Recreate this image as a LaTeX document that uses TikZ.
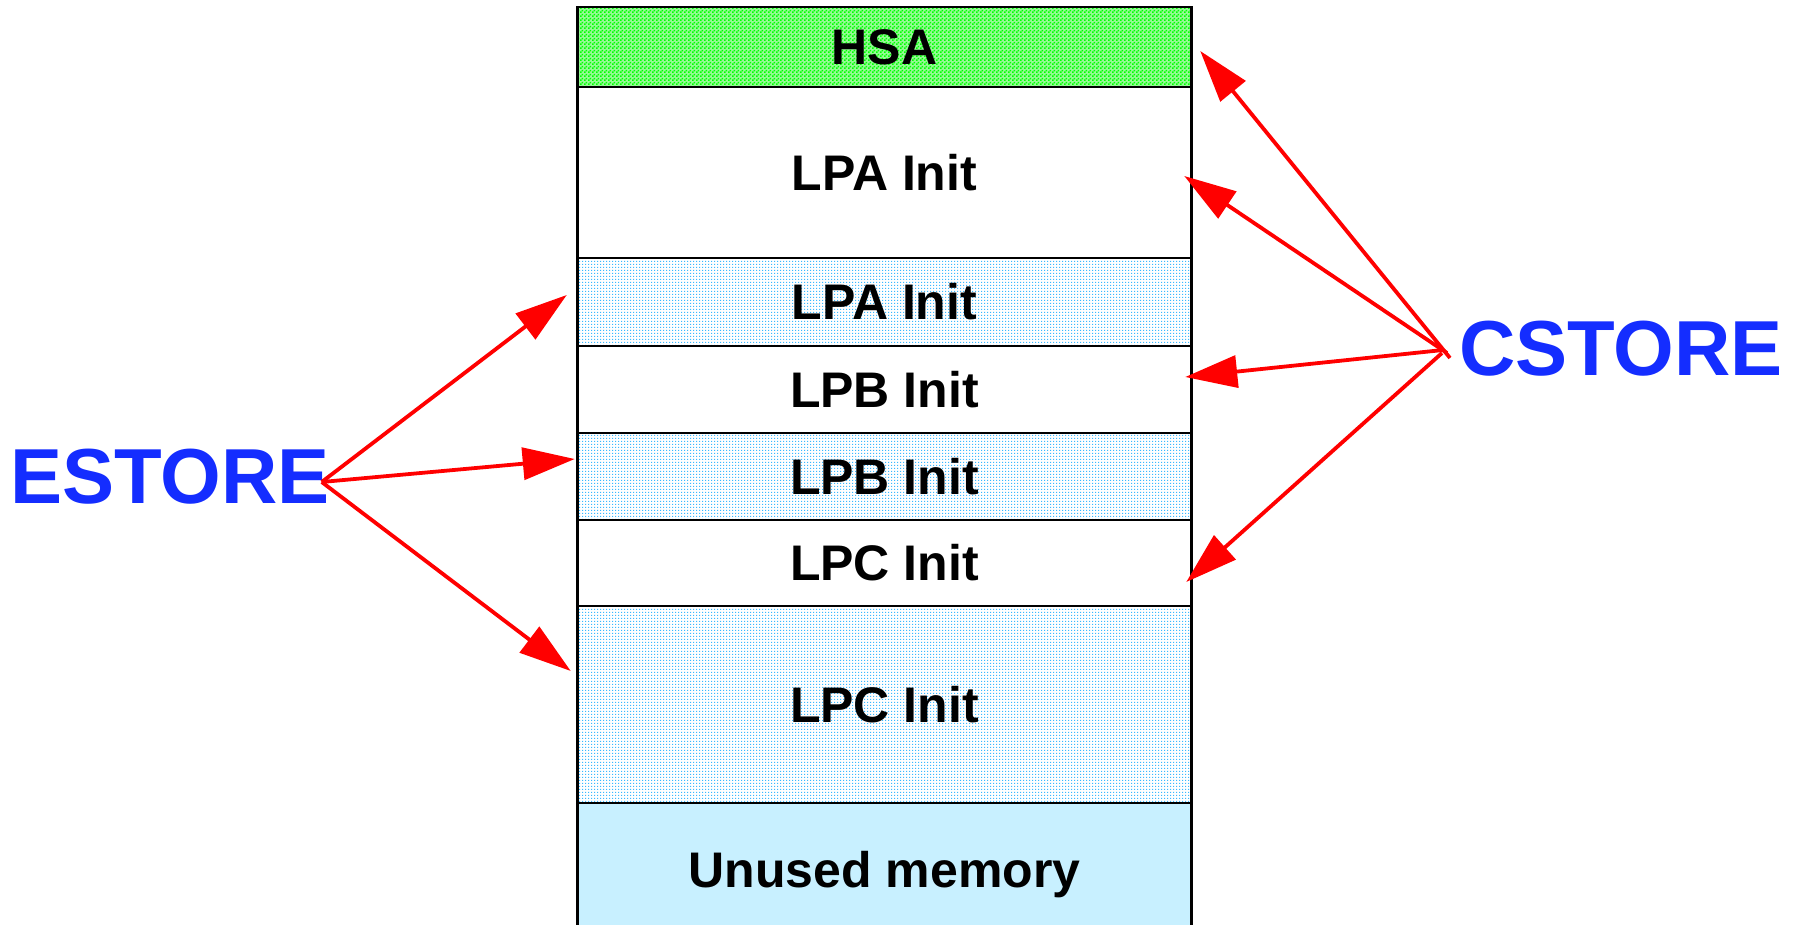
\documentclass[tikz,border=0pt]{standalone}
\usepackage{fontspec}
\setmainfont{Liberation Sans}
\usetikzlibrary{arrows.meta,patterns.meta}

\definecolor{storeblue}{RGB}{20,45,255}
\definecolor{arrowred}{RGB}{255,0,0}
\definecolor{hsagreen}{RGB}{0,255,0}
\definecolor{hsabase}{RGB}{150,250,150}
\definecolor{dotblue}{RGB}{60,185,255}
\definecolor{unusedcyan}{RGB}{200,240,255}

% green checkerboard for the HSA area
\tikzdeclarepattern{
  name=hsachecker,
  type=uncolored,
  bounding box={(0pt,0pt) and (4pt,4pt)},
  tile size={(4pt,4pt)},
  code={\fill (0pt,0pt) rectangle (2pt,2pt);
        \fill (2pt,2pt) rectangle (4pt,4pt);}
}
% fine dot grid for the shaded image areas
\tikzdeclarepattern{
  name=finedots,
  type=uncolored,
  bounding box={(0pt,0pt) and (3pt,3pt)},
  tile size={(3pt,3pt)},
  code={\fill (0pt,0pt) rectangle (1.5pt,1.5pt);}
}

\tikzset{
  memrow/.style={draw=black, line width=2.5pt, minimum width=614pt,
    inner sep=0pt, font=\fontsize{50}{60}\selectfont\bfseries},
  dotted area/.style={memrow, pattern={finedots}, pattern color=dotblue},
  storelabel/.style={inner sep=0pt, text=storeblue,
    font=\fontsize{78}{90}\selectfont\bfseries},
  storearrow/.style={draw=arrowred, line width=3.8pt,
    -{Triangle[length=52pt,width=32pt]}}
}

\begin{document}
\begin{tikzpicture}[x=1pt,y=-1pt]
  \useasboundingbox (0,0) rectangle (1804,925);
  \fill[white] (0,0) rectangle (1804,925);

  % memory layout, top to bottom
  \begin{scope}
    \clip (0,0) rectangle (1804,925);
    \fill[hsabase] (577.5,7) rectangle (1191.5,87);
    \node[memrow, minimum height=80pt, pattern={hsachecker}, pattern color=hsagreen]
      (hsa) at (884.5,47) {HSA};
    \node[memrow, minimum height=171pt] (lpa1) at (884.5,172.5) {LPA Init};
    \node[dotted area, minimum height=88pt] (lpa2) at (884.5,302) {LPA Init};
    \node[memrow, minimum height=87pt] (lpb1) at (884.5,389.5) {LPB Init};
    \node[dotted area, minimum height=87pt] (lpb2) at (884.5,476.5) {LPB Init};
    \node[memrow, minimum height=86pt] (lpc1) at (884.5,563) {LPC Init};
    \node[dotted area, minimum height=197pt] (lpc2) at (884.5,704.5) {LPC Init};
    \node[memrow, minimum height=132pt, fill=unusedcyan, text depth=0pt]
      (unused) at (884.5,869) {Unused memory};
  \end{scope}

  % store commands
  \node[storelabel, anchor=west] (es) at (10,477) {ESTORE};
  \node[storelabel, anchor=west] (cs) at (1459,348.5) {CSTORE};

  % ESTORE targets
  \draw[storearrow] ([shift={(-8,5)}]es.east) -- ([shift={(-9.5,-7)}]lpa2.west);
  \draw[storearrow] ([shift={(-8,5)}]es.east) -- ([shift={(-1.5,-17.5)}]lpb2.west);
  \draw[storearrow] ([shift={(-8,5)}]es.east) -- ([shift={(-5.5,-33.5)}]lpc2.west);

  % CSTORE targets
  \draw[storearrow] ([shift={(-9,9.5)}]cs.west) -- ([shift={(7.5,4)}]hsa.east);
  \draw[storearrow] ([shift={(-12,4.5)}]cs.west) -- ([shift={(-8.5,3.5)}]lpa1.east);
  \draw[storearrow] ([shift={(-16,1.5)}]cs.west) -- ([shift={(-7.5,-12.5)}]lpb1.east);
  \draw[storearrow] ([shift={(-17,4.5)}]cs.west) -- ([shift={(-6.5,19)}]lpc1.east);
\end{tikzpicture}
\end{document}
